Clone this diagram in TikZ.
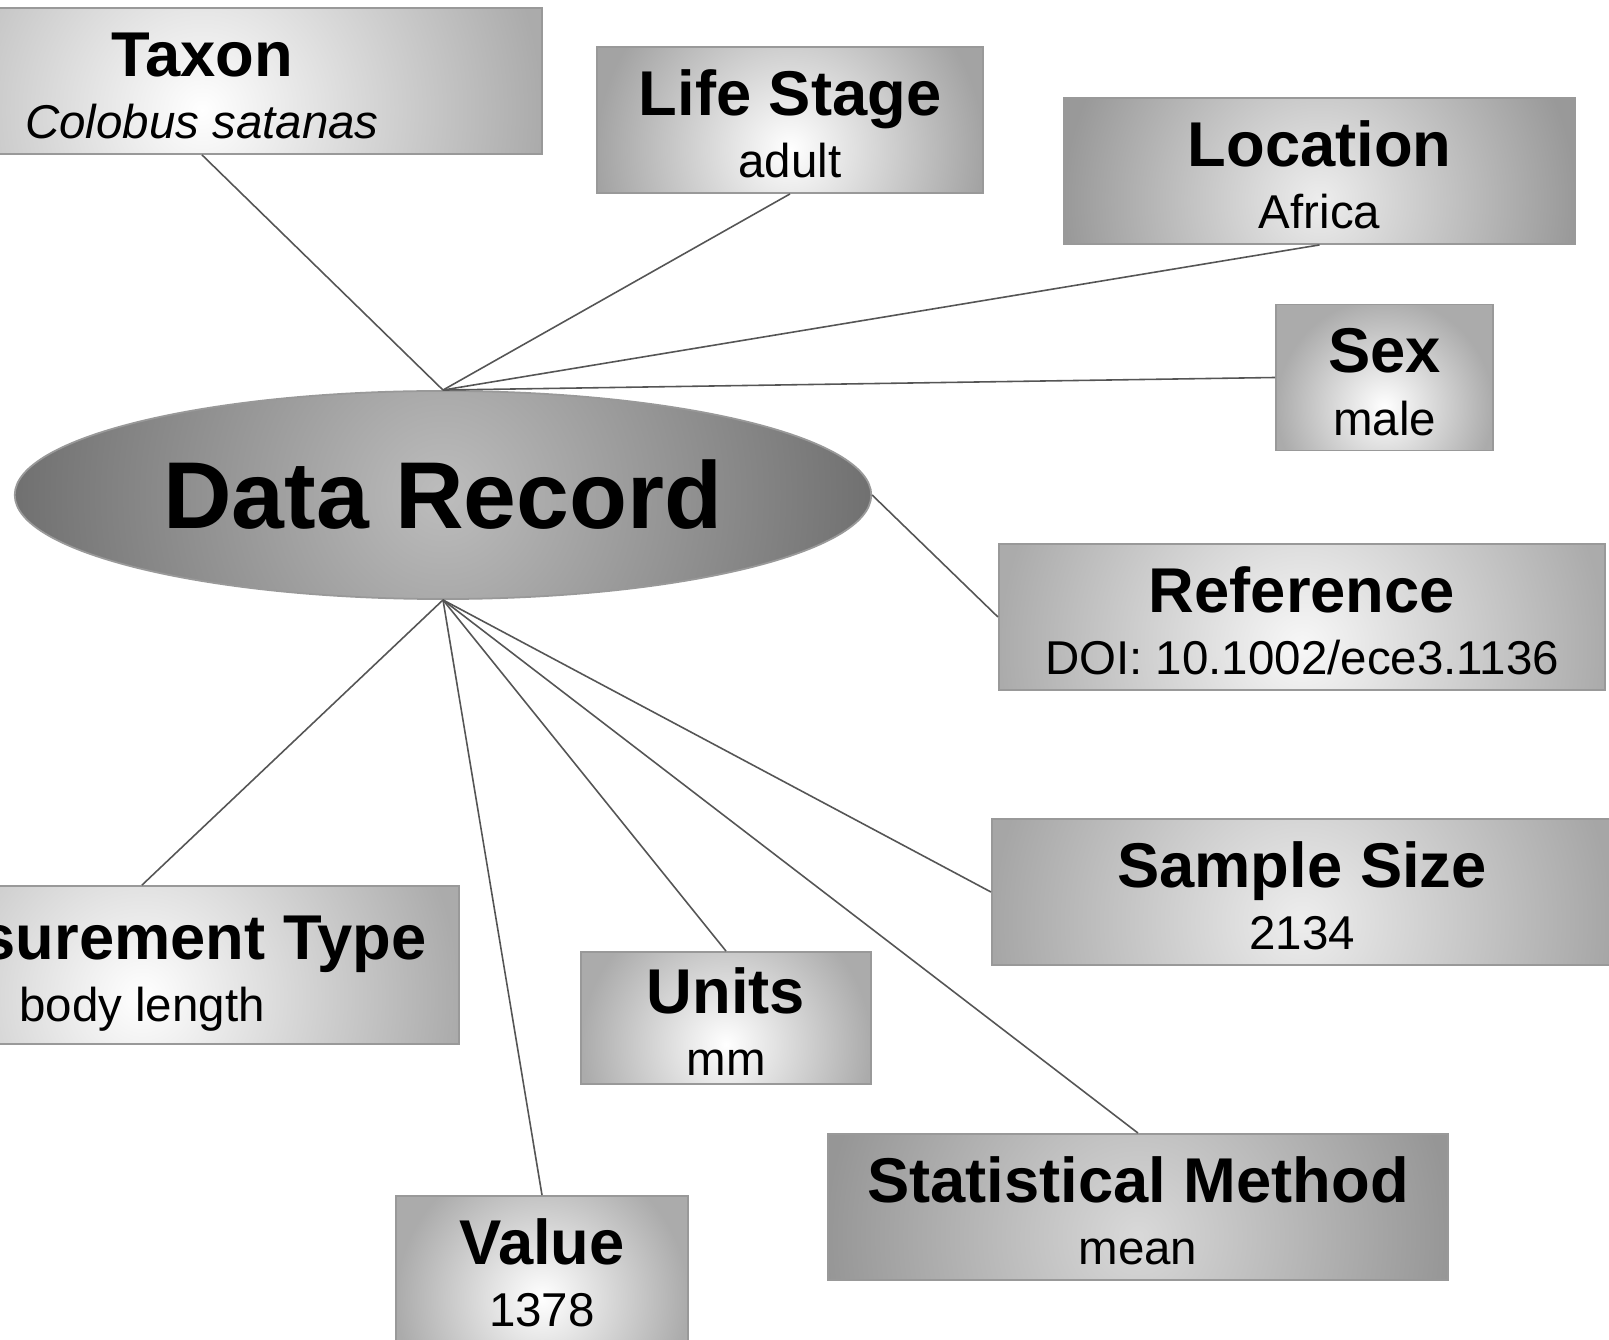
\documentclass[tikz,border=0pt]{standalone}
\usepackage{fontspec}
\setmainfont{Liberation Sans}
\usetikzlibrary{shapes.geometric,calc}

\definecolor{linegray}{HTML}{555555}
\definecolor{framegray}{HTML}{999999}
\colorlet{spotc}{white}
\colorlet{rimc}{black!33}

\tikzset{
  spot/.code={\colorlet{spotc}{#1}},
  rim/.code={\colorlet{rimc}{#1}},
  glow/.style={path picture={
    \shade[inner color=spotc, outer color=rimc]
      let \p1=(path picture bounding box.south west),
          \p2=(path picture bounding box.north east)
      in ({0.5*(\x1+\x2)},{\y1+#1*(\y2-\y1)}) circle [radius={0.5*(\x2-\x1)}];}},
  attr/.style={rectangle, draw=framegray, line width=0.5pt, spot=white, rim=black!33,
    fill=rimc, glow=0.3, inner ysep=0pt, align=center,
    font=\fontsize{13.5}{17.7}\selectfont},
  record/.style={ellipse, draw=framegray, line width=0.5pt, spot=black!26, rim=black!56,
    fill=rimc, glow=0.5, inner sep=0pt,
    minimum width=8.56cm, minimum height=2.08cm,
    font=\fontsize{27}{30}\selectfont\bfseries},
  link/.style={draw=linegray, line width=0.45pt}
}
\newcommand{\attrtext}[2]{{\fontsize{18}{17.7}\selectfont\bfseries\rule{0pt}{17.4pt}#1}\\
  #2\rule[-2.3pt]{0pt}{2.3pt}}

\begin{document}
\begin{tikzpicture}[x=0.01cm, y=-0.01cm]
  \useasboundingbox[fill=white] (0,0) rectangle (1609,1340);
  % central record
  \node[record] (dr) at (443,495) {Data Record};
  % attributes above
  \node[attr, minimum width=6.80cm, minimum height=1.46cm] (taxon) at (202,81)
    {\attrtext{Taxon}{\textit{Colobus satanas}}};
  \node[attr, minimum width=3.86cm, minimum height=1.46cm, rim=black!36] (stage) at (790,120)
    {\attrtext{Life Stage}{adult}};
  \node[attr, minimum width=5.11cm, minimum height=1.46cm, spot=black!7, rim=black!40] (loc) at (1319.5,171)
    {\attrtext{Location}{Africa}};
  \node[attr, minimum width=2.17cm, minimum height=1.46cm] (sex) at (1384.5,377.5)
    {\attrtext{Sex}{male}};
  \node[attr, minimum width=6.06cm, minimum height=1.46cm, spot=black!3] (ref) at (1302,617)
    {\attrtext{Reference}{DOI: 10.1002/ece3.1136}};
  % attributes below
  \node[attr, minimum width=6.34cm, minimum height=1.58cm] (mtype) at (142,965)
    {\attrtext{Measurement Type}{body length}};
  \node[attr, minimum width=2.90cm, minimum height=1.32cm] (units) at (726,1018)
    {\attrtext{Units}{mm}};
  \node[attr, minimum width=2.92cm, minimum height=1.46cm] (value) at (542,1269)
    {\attrtext{Value}{1378}};
  \node[attr, minimum width=6.20cm, minimum height=1.46cm, spot=black!15, rim=black!41] (stat) at (1138,1207)
    {\attrtext{Statistical Method}{mean}};
  \node[attr, minimum width=6.20cm, minimum height=1.46cm, spot=black!7, rim=black!35] (size) at (1302,892)
    {\attrtext{Sample Size}{2134}};
  % connectors
  \draw[link] (dr.north) -- (taxon.south);
  \draw[link] (dr.north) -- (stage.south);
  \draw[link] (dr.north) -- (loc.south);
  \draw[link] (dr.north) -- (sex.west);
  \draw[link] (dr.east) -- (ref.west);
  \draw[link] (dr.south) -- (mtype.north);
  \draw[link] (dr.south) -- (value.north);
  \draw[link] (dr.south) -- (units.north);
  \draw[link] (dr.south) -- (stat.north);
  \draw[link] (dr.south) -- (size.west);
\end{tikzpicture}
\end{document}
